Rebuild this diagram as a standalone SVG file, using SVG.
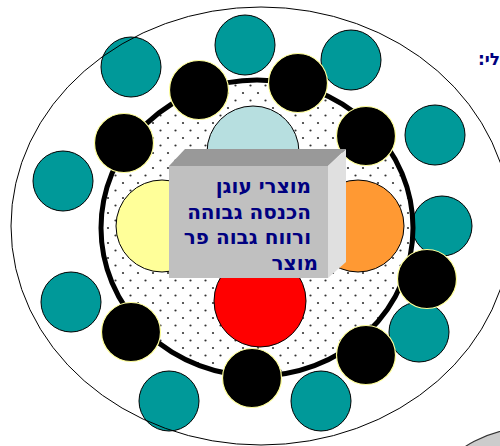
<svg xmlns="http://www.w3.org/2000/svg" width="500" height="446" viewBox="0 0 500 446">
<defs>
<pattern id="dots" x="0" y="0" width="15" height="15" patternUnits="userSpaceOnUse">
<rect width="15" height="15" fill="#ffffff"/>
<circle cx="3" cy="3" r="1.1" fill="#333333"/>
<circle cx="10.5" cy="10.5" r="1.1" fill="#333333"/>
</pattern>
<style>
.teal{fill:#009999;stroke:#000000;stroke-width:1}
.blk{fill:#000000;stroke:#ffff99;stroke-width:1.2}
.petal{stroke:#000000;stroke-width:1}
.lbl{font-family:"DejaVu Sans","Liberation Sans",sans-serif;font-weight:bold;fill:#000080}
</style>
</defs>
<rect width="500" height="446" fill="#ffffff"/>
<ellipse id="corner-shape" cx="545" cy="478" rx="100" ry="52" fill="#cccccc" stroke="#333333" stroke-width="1.2"/>
<text id="top-label" class="lbl" x="500" y="65" font-size="17" direction="rtl" text-anchor="start">לי:</text>
<g id="teal-circles">
<circle id="t1" class="teal" cx="131" cy="67" r="30"/>
<circle id="t2" class="teal" cx="245" cy="45" r="30"/>
<circle id="t3" class="teal" cx="351" cy="60" r="30"/>
<circle id="t4" class="teal" cx="435" cy="135" r="30"/>
<circle id="t5" class="teal" cx="442" cy="226" r="30"/>
<circle id="t6" class="teal" cx="419" cy="332" r="30"/>
<circle id="t7" class="teal" cx="321" cy="401" r="30"/>
<circle id="t8" class="teal" cx="169" cy="401" r="30"/>
<circle id="t9" class="teal" cx="71" cy="302" r="30"/>
<circle id="t10" class="teal" cx="63" cy="181" r="30"/>
</g>
<ellipse id="outer" cx="261" cy="226" rx="250" ry="219" fill="none" stroke="#000000" stroke-width="1"/>
<ellipse id="ring" cx="257" cy="228" rx="156" ry="148" fill="url(#dots)" stroke="#000000" stroke-width="5"/>
<g id="petals">
<circle id="p-top" class="petal" cx="253" cy="152" r="46" fill="#b7dfe0"/>
<circle id="p-left" class="petal" cx="162" cy="226" r="46" fill="#ffff99"/>
<circle id="p-right" class="petal" cx="358" cy="226" r="46" fill="#ff9933"/>
<circle id="p-bottom" class="petal" cx="260" cy="301" r="46" fill="#ff0000"/>
</g>
<g id="black-circles">
<circle id="b1" class="blk" cx="199" cy="90" r="29.5"/>
<circle id="b2" class="blk" cx="298" cy="83" r="29.5"/>
<circle id="b3" class="blk" cx="366" cy="136" r="29.5"/>
<circle id="b4" class="blk" cx="124" cy="143" r="29.5"/>
<circle id="b5" class="blk" cx="427" cy="279" r="29.5"/>
<circle id="b6" class="blk" cx="366" cy="355" r="29.5"/>
<circle id="b7" class="blk" cx="252" cy="378" r="29.5"/>
<circle id="b8" class="blk" cx="131" cy="332" r="29.5"/>
</g>
<g id="center-box">
<rect x="169" y="166" width="159" height="112" fill="#c0c0c0"/>
<polygon points="169,166 185,149 346,149 328,166" fill="#999999"/>
<polygon points="328,166 346,149 346,262 328,278" fill="#e0e0e0"/>
<text class="lbl" font-size="20" text-anchor="end">
<tspan x="318" y="193">מוצרי עוגן</tspan>
<tspan x="318" y="219">הכנסה גבוהה</tspan>
<tspan x="318" y="244">ורווח גבוה פר</tspan>
<tspan x="318" y="270">מוצר</tspan>
</text>
</g>
</svg>
